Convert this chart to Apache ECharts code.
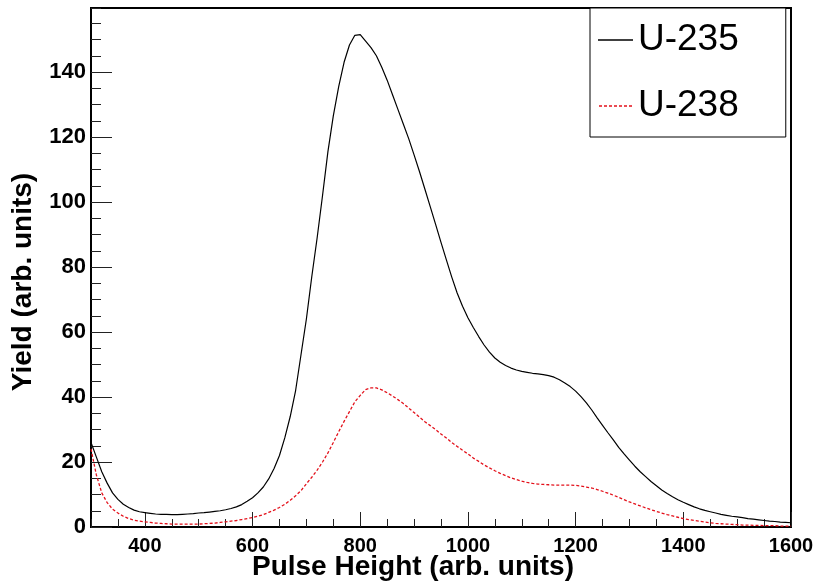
<!DOCTYPE html>
<html>
<head>
<meta charset="utf-8">
<script src="https://cdn.jsdelivr.net/npm/echarts@6/dist/echarts.min.js"></script>
<style>html,body{margin:0;padding:0;background:#fff;}#c{width:819px;height:581px;}</style>
</head>
<body>
<div id="c"></div>
<script>
// Pulse height bin centres (step 10)
const pulseHeight = [];
for (let v = 300; v <= 1600; v += 10) pulseHeight.push(v);

const u235 = [
26,21.5,17,13.5,10.5,8.5,7,6,5.2,4.7,
4.4,4.2,4.0,3.9,3.9,3.8,3.8,3.9,4.0,4.1,
4.3,4.4,4.6,4.8,5.0,5.3,5.7,6.2,6.9,7.9,
9.0,10.5,12.3,14.8,18,22,27.5,34,42,53,
64,77,89,102,115.5,126.5,135.5,143,148.3,151.3,
151.5,149.5,147.5,145,141.5,137.5,133,128.5,124,119.5,
114.5,109.4,104,98.6,93.1,87.6,82.2,76.9,72,67.9,
64.4,61.4,58.6,56,53.8,52,50.7,49.7,48.9,48.3,
47.9,47.6,47.3,47.1,46.9,46.6,46.1,45.3,44.3,43.2,
41.8,40.1,38.2,36,33.6,31.3,29,26.8,24.5,22.5,
20.6,18.7,17,15.5,14,12.7,11.4,10.3,9.3,8.4,
7.6,6.9,6.2,5.6,5.1,4.7,4.3,3.9,3.6,3.3,
3.1,2.9,2.6,2.4,2.2,2.0,1.8,1.7,1.5,1.4,
1.3
];

const u238 = [
24,16,10.5,7.5,5.5,4.3,3.3,2.6,2.1,1.8,
1.6,1.4,1.2,1.1,1.0,0.9,0.9,0.9,0.9,0.9,
0.9,1.0,1.1,1.2,1.4,1.6,1.8,2.0,2.3,2.6,
2.9,3.3,3.8,4.5,5.2,6.0,7.0,8.2,9.6,11.2,
13.3,15.3,17.5,20,22.8,26,29.3,32.5,35.5,38.5,
40.5,42.3,42.8,42.8,42.2,41.3,40.3,39.2,38,36.6,
35.2,33.8,32.4,31.2,30,28.6,27.4,26,24.8,23.6,
22.5,21.2,20.2,19.1,18.2,17.3,16.5,15.8,15.1,14.6,
14.1,13.7,13.4,13.2,13.1,13.0,12.9,12.9,12.9,12.9,
12.8,12.6,12.3,12,11.5,11,10.4,9.8,9.1,8.4,
7.7,7.1,6.5,5.9,5.3,4.8,4.3,3.8,3.4,3.0,
2.6,2.3,2.0,1.8,1.5,1.3,1.1,1.0,0.9,0.8,
0.7,0.6,0.6,0.5,0.5,0.4,0.4,0.4,0.3,0.3,
0.3
];

const xMajorTicks = [400,600,800,1000,1200,1400,1600];
const yMajorTicks = [0,20,40,60,80,100,120,140];
const seriesNames = ['U-235','U-238'];

const chart = echarts.init(document.getElementById('c'), null, {renderer:'canvas'});
const font = 'Liberation Sans, Arial, Helvetica, sans-serif';
const xMin = 300, xMax = 1600, yMin = 0, yMax = 159.7;
const plain = v => String(v);

const solidIcon = 'path://M0,0H35V1.5H0Z';
const dashedIcon = 'path://M0,0H3V1.5H0ZM5,0H8V1.5H5ZM10,0H13V1.5H10ZM15,0H18V1.5H15ZM20,0H23V1.5H20ZM25,0H28V1.5H25ZM30,0H33V1.5H30Z';

const option = {
  animation:false,
  backgroundColor:'#fff',
  grid: {left:91, right:28, top:8, bottom:54, outerBoundsMode:'none', containLabel:false,
         show:true, borderColor:'#000', borderWidth:2, backgroundColor:'transparent'},
  legend: {
    orient:'vertical', left:590, top:8,
    data: [{name:seriesNames[0], icon:solidIcon}, {name:seriesNames[1], icon:dashedIcon}],
    backgroundColor:'#fff', borderColor:'#000', borderWidth:1,
    padding:[12,47,11,8],
    itemWidth:35, itemHeight:1.5, itemGap:26,
    textStyle:{fontFamily:font, fontSize:37, color:'#000', lineHeight:40}
  },
  xAxis: [
    {type:'value', min:xMin, max:xMax, interval:50, position:'bottom',
     axisLine:{show:true, onZero:false, lineStyle:{color:'#000', width:2}},
     axisTick:{show:true, inside:true, length:8, lineStyle:{color:'#222', width:1}},
     axisLabel:{show:false}, splitLine:{show:false}},
    {type:'value', min:xMin, max:xMax, position:'bottom',
     name:'Pulse Height (arb. units)', nameLocation:'middle', nameGap:26, nameMoveOverlap:false,
     nameTextStyle:{fontFamily:font, fontSize:28, fontWeight:'bold', color:'#000', padding:[0,56,0,0]},
     axisLine:{show:false, onZero:false},
     axisTick:{show:true, inside:true, length:15, customValues:xMajorTicks, lineStyle:{color:'#222', width:1}},
     axisLabel:{show:true, customValues:xMajorTicks, formatter:plain, margin:9, fontFamily:font, fontSize:20, fontWeight:'bold', color:'#000'},
     splitLine:{show:false}}
  ],
  yAxis: [
    {type:'value', min:yMin, max:yMax, interval:5, position:'left',
     axisLine:{show:true, onZero:false, lineStyle:{color:'#000', width:2}},
     axisTick:{show:true, inside:true, length:10, lineStyle:{color:'#222', width:1}},
     axisLabel:{show:false}, splitLine:{show:false}},
    {type:'value', min:yMin, max:yMax, position:'left',
     name:'Yield (arb. units)', nameLocation:'middle', nameGap:54, nameMoveOverlap:false,
     nameTextStyle:{fontFamily:font, fontSize:28, fontWeight:'bold', color:'#000', padding:[0,29,0,0]},
     axisLine:{show:false, onZero:false},
     axisTick:{show:true, inside:true, length:21, customValues:yMajorTicks, lineStyle:{color:'#222', width:1}},
     axisLabel:{show:true, customValues:yMajorTicks, formatter:plain, margin:5, fontFamily:font, fontSize:22, fontWeight:'bold', color:'#000'},
     splitLine:{show:false}}
  ],
  series: [
    {name:seriesNames[0], type:'line', xAxisIndex:0, yAxisIndex:0, symbol:'none', showSymbol:false,
     data: pulseHeight.map((x,i)=>[x,u235[i]]),
     lineStyle:{color:'#000', width:1.2}, itemStyle:{color:'#000'}},
    {name:seriesNames[1], type:'line', xAxisIndex:0, yAxisIndex:0, symbol:'none', showSymbol:false,
     data: pulseHeight.map((x,i)=>[x,u238[i]]),
     lineStyle:{color:'#e3111b', width:1.3, type:[3,2]}, itemStyle:{color:'#e3111b'}}
  ]
};
chart.setOption(option);
</script>
</body>
</html>
